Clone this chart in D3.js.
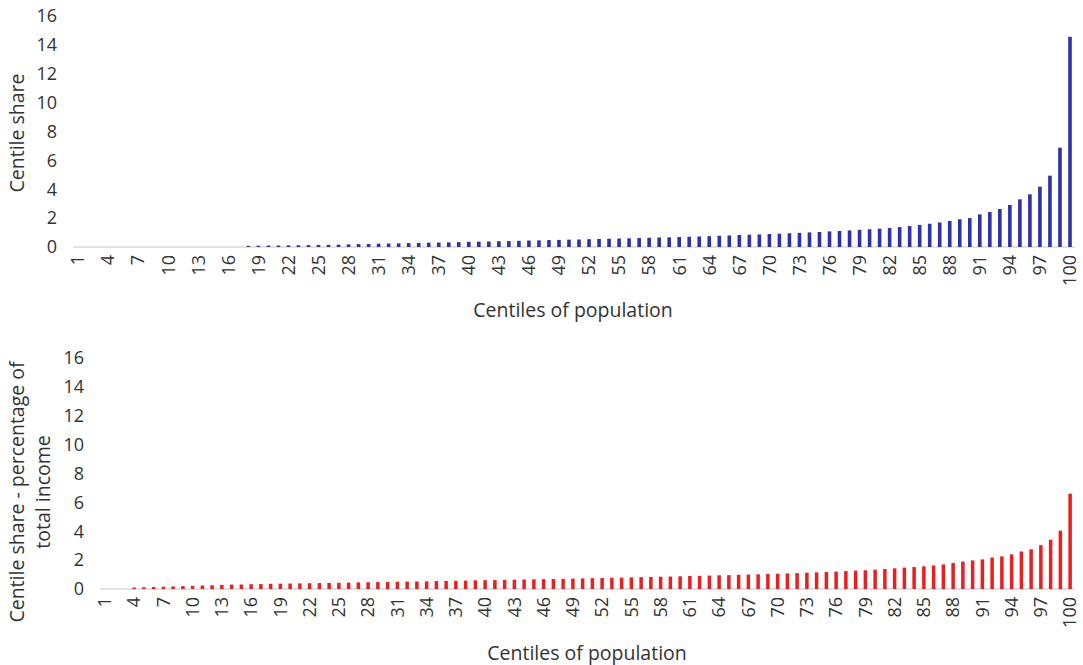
<!DOCTYPE html>
<html>
<head>
<meta charset="utf-8">
<script src="https://cdn.jsdelivr.net/npm/d3@7"></script>
<style>
  body { margin: 0; background: #fff; }
  text { font-family: "Open Sans", sans-serif; fill: #333; }
</style>
</head>
<body>
<div id="chart"></div>
<script>
// centiles 1..100
const centiles = d3.range(1, 101);

// top panel: centile share
const shareTop = [
  0, 0, 0, 0, 0, 0, 0, 0, 0, 0,
  0, 0, 0, 0, 0, 0, 0, 0.08, 0.09, 0.1,
  0.1, 0.11, 0.12, 0.13, 0.14, 0.15, 0.16, 0.18, 0.2, 0.21,
  0.23, 0.24, 0.25, 0.27, 0.28, 0.3, 0.31, 0.32, 0.34, 0.36,
  0.37, 0.38, 0.4, 0.41, 0.43, 0.45, 0.46, 0.48, 0.49, 0.51,
  0.52, 0.54, 0.56, 0.57, 0.59, 0.6, 0.62, 0.64, 0.66, 0.67,
  0.69, 0.71, 0.73, 0.75, 0.78, 0.8, 0.83, 0.85, 0.87, 0.9,
  0.92, 0.95, 0.98, 1.01, 1.04, 1.08, 1.11, 1.15, 1.19, 1.23,
  1.27, 1.32, 1.38, 1.45, 1.53, 1.61, 1.7, 1.8, 1.92, 2.0,
  2.26, 2.42, 2.63, 2.91, 3.3, 3.65, 4.18, 4.94, 6.88, 14.56
];

// bottom panel: centile share - percentage of total income
const shareBottom = [
  0, 0, 0, 0.1, 0.12, 0.14, 0.16, 0.18, 0.2, 0.22,
  0.24, 0.26, 0.28, 0.3, 0.31, 0.33, 0.34, 0.36, 0.37, 0.38,
  0.39, 0.4, 0.41, 0.42, 0.43, 0.44, 0.46, 0.47, 0.48, 0.49,
  0.5, 0.51, 0.52, 0.53, 0.55, 0.56, 0.57, 0.58, 0.6, 0.61,
  0.62, 0.63, 0.64, 0.66, 0.67, 0.68, 0.69, 0.7, 0.72, 0.73,
  0.75, 0.76, 0.78, 0.79, 0.8, 0.82, 0.83, 0.85, 0.86, 0.88,
  0.9, 0.91, 0.93, 0.95, 0.96, 0.98, 1.0, 1.02, 1.04, 1.06,
  1.08, 1.1, 1.13, 1.15, 1.18, 1.21, 1.24, 1.27, 1.3, 1.34,
  1.38, 1.43, 1.48, 1.52, 1.57, 1.63, 1.7, 1.8, 1.9, 1.98,
  2.05, 2.18, 2.26, 2.4, 2.6, 2.75, 3.04, 3.41, 4.04, 6.6
];

const yTicks = [0, 2, 4, 6, 8, 10, 12, 14, 16];
const xTickLabels = centiles.filter(c => (c - 1) % 3 === 0);

const width = 1083;
const height = 665;

const svg = d3.select("#chart")
    .append("svg")
    .attr("width", width)
    .attr("height", height);

function drawPanel(opts) {
  const x = d3.scaleBand()
      .domain(centiles)
      .range([opts.left, opts.right])
      .paddingInner(0.64)
      .paddingOuter(0.32);

  const y = d3.scaleLinear()
      .domain([0, 16])
      .range([opts.bottom, opts.top]);

  const g = svg.append("g");

  // baseline
  g.append("line")
      .attr("x1", opts.left)
      .attr("x2", opts.right)
      .attr("y1", y(0))
      .attr("y2", y(0))
      .attr("stroke", "#d9d9d9")
      .attr("stroke-width", 1.3);

  // bars
  g.append("g")
      .selectAll("rect")
      .data(opts.values.map((v, i) => ({c: centiles[i], v: v})))
      .enter().append("rect")
      .attr("x", d => x(d.c))
      .attr("width", x.bandwidth())
      .attr("y", d => y(d.v))
      .attr("height", d => y(0) - y(d.v))
      .attr("fill", opts.color);

  // y axis
  const yAxis = g.append("g")
      .attr("transform", `translate(${opts.left - 16},0)`)
      .call(d3.axisLeft(y).tickValues(yTicks).tickSize(0).tickPadding(0));
  yAxis.select(".domain").remove();
  yAxis.selectAll("text")
      .style("font-size", "18px")
      .attr("fill", "#333");

  // x axis
  const xAxis = g.append("g")
      .attr("transform", `translate(0,${y(0)})`)
      .call(d3.axisBottom(x).tickValues(xTickLabels).tickSize(0));
  xAxis.select(".domain").remove();
  xAxis.selectAll("text")
      .attr("transform", "rotate(-90)")
      .attr("x", -8)
      .attr("y", 0)
      .attr("dy", "0.35em")
      .style("text-anchor", "end")
      .style("font-size", "18px")
      .attr("fill", "#333");

  // x title
  g.append("text")
      .attr("x", opts.xTitleX)
      .attr("y", opts.xTitleY)
      .attr("text-anchor", "middle")
      .style("font-size", "19.5px")
      .text("Centiles of population");

  // y title
  const yt = g.append("text")
      .attr("transform", `translate(${opts.yTitleX},${opts.yTitleY}) rotate(-90)`)
      .attr("text-anchor", "middle")
      .style("font-size", "19.5px");
  opts.yTitle.forEach((line, i) => {
    yt.append("tspan")
        .attr("x", 0)
        .attr("dy", i === 0 ? 0 : 26)
        .text(line);
  });
}

drawPanel({
  values: shareTop,
  color: "#2e31a8",
  left: 73, right: 1075, top: 16, bottom: 247,
  xTitleX: 573, xTitleY: 317,
  yTitle: ["Centile share"], yTitleX: 24, yTitleY: 133
});

drawPanel({
  values: shareBottom,
  color: "#e8201f",
  left: 100, right: 1075, top: 358, bottom: 589,
  xTitleX: 587, xTitleY: 660,
  yTitle: ["Centile share - percentage of", "total income"], yTitleX: 24, yTitleY: 492
});
</script>
</body>
</html>
